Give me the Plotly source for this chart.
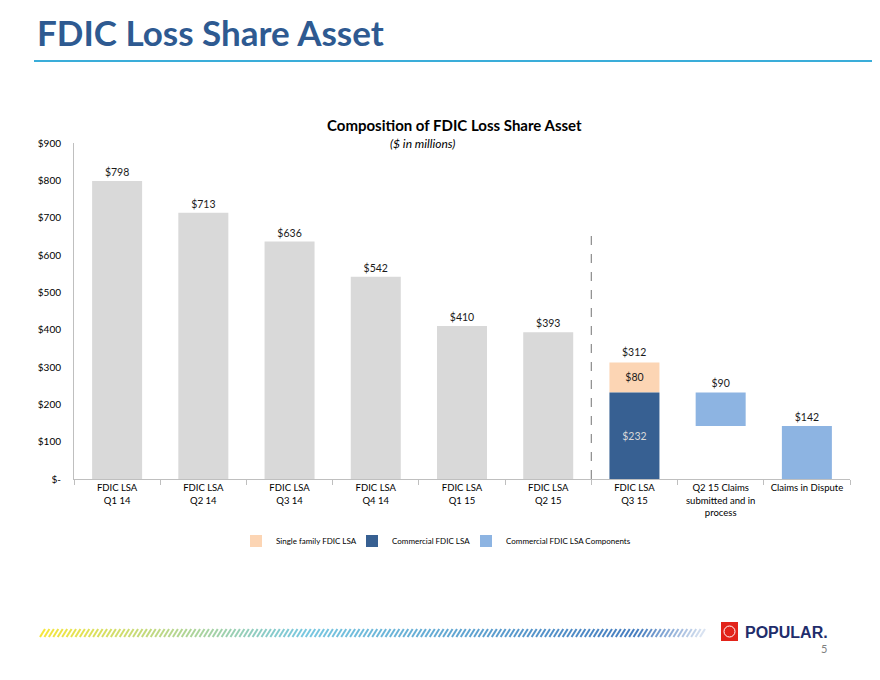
import plotly.graph_objects as go

# ---- data (in $ millions) ----
categories = [
    "FDIC LSA<br>Q1 14", "FDIC LSA<br>Q2 14", "FDIC LSA<br>Q3 14",
    "FDIC LSA<br>Q4 14", "FDIC LSA<br>Q1 15", "FDIC LSA<br>Q2 15",
    "FDIC LSA<br>Q3 15", "Q2 15 Claims<br>submitted and in<br>process",
    "Claims in Dispute",
]
lsa_totals = [798, 713, 636, 542, 410, 393]
commercial_q3 = 232
single_family_q3 = 80
claims_in_process = 90
claims_in_dispute = 142
y_ticks = [0, 100, 200, 300, 400, 500, 600, 700, 800, 900]
y_tick_labels = ["$-", "$100", "$200", "$300", "$400", "$500", "$600", "$700", "$800", "$900"]

GREY = "#D9D9D9"
PEACH = "#FCD5B4"
DARK_BLUE = "#376092"
LIGHT_BLUE = "#8DB4E2"
FONT = "Lato"

# the page puts the figure 8px in from the window corner,
# so screen positions are shifted back by that much
OFF = 8
W, H = 880, 680
L, T = 74 - OFF, 143 - OFF
R, B = W - (850 - OFF), H - (479 - OFF)
PW, PH = W - L - R, H - T - B


def px(x):
    return (x - OFF - L) / PW


def py(y):
    return (H - B - (y - OFF)) / PH


fig = go.Figure()

fig.add_trace(go.Bar(
    x=categories[:6], y=lsa_totals, base=[0] * len(lsa_totals),
    marker_color=GREY, showlegend=False,
    texttemplate="$%{y}", textposition="outside",
))
fig.add_trace(go.Bar(
    x=[categories[6]], y=[single_family_q3], base=[commercial_q3],
    marker_color=PEACH, name="Single family FDIC LSA", legend="legend",
    texttemplate="$%{y}", textposition="inside", insidetextanchor="middle",
))
fig.add_trace(go.Bar(
    x=[categories[6]], y=[commercial_q3], base=[0],
    marker_color=DARK_BLUE, name="Commercial FDIC LSA", legend="legend2",
    texttemplate="$%{y}", textposition="inside", insidetextanchor="middle",
))
fig.add_trace(go.Bar(
    x=categories[7:], y=[claims_in_process, claims_in_dispute],
    base=[claims_in_dispute, 0],
    marker_color=LIGHT_BLUE, name="Commercial FDIC LSA Components", legend="legend3",
    texttemplate="$%{y}", textposition="outside",
))

for tr in fig.data:
    tr.width = 0.58
    tr.cliponaxis = False
    tr.marker.line.width = 0
    tr.textfont = dict(size=10.5, color="#1a1a1a")
fig.data[2].textfont.color = "#D9D9D9"

# total label for the stacked Q3 15 bar
fig.add_annotation(
    x=categories[6], y=commercial_q3 + single_family_q3,
    text="$%d" % (commercial_q3 + single_family_q3),
    showarrow=False, yanchor="bottom", yshift=3,
    font=dict(size=10.5, color="#1a1a1a"),
)

# dashed divider between history and Q3 15 breakdown
fig.add_shape(type="line", xref="x", yref="y", x0=5.5, x1=5.5, y0=0, y1=660,
              line=dict(color="#8C8C8C", width=1.2, dash="dash"))

# slide title and rule
fig.add_annotation(xref="paper", yref="paper", x=px(35), y=py(32), xanchor="left", yanchor="middle",
                   text="<b>FDIC Loss Share Asset</b>", showarrow=False,
                   font=dict(family=FONT, size=35, color="#2E5A91"))
fig.add_shape(type="line", xref="paper", yref="paper", x0=px(34), x1=px(890), y0=py(61), y1=py(61),
              line=dict(color="#3AADD9", width=2))

# chart title
fig.add_annotation(xref="paper", yref="paper", x=px(454), y=py(125), xanchor="center", yanchor="middle",
                   text="<b>Composition of FDIC Loss Share Asset</b>", showarrow=False,
                   font=dict(family=FONT, size=15, color="#000000"))
fig.add_annotation(xref="paper", yref="paper", x=px(422), y=py(143), xanchor="center", yanchor="middle",
                   text="<i>($ in millions)</i>", showarrow=False,
                   font=dict(family=FONT, size=12, color="#000000"))

# footer stripe (decoration)
stripe_start, stripe_end = 40, 700
n = 150
for i in range(n):
    t = i / (n - 1)
    if t < 0.4:
        f = t / 0.4
        c = (int(245 + (120 - 245) * f), int(230 + (200 - 230) * f), int(60 + (225 - 60) * f))
    else:
        f = (t - 0.4) / 0.6
        c = (int(120 + (60 - 120) * f), int(200 + (110 - 200) * f), int(225 + (185 - 225) * f))
    alpha = 1.0 if t < 0.9 else max(0.15, 1 - (t - 0.9) * 8)
    x0 = stripe_start + (stripe_end - stripe_start) * t
    fig.add_shape(type="line", xref="paper", yref="paper",
                  x0=px(x0), x1=px(x0 + 5), y0=py(637), y1=py(629),
                  line=dict(color="rgba(%d,%d,%d,%.2f)" % (c + (alpha,)), width=2))

# Popular logo
fig.add_shape(type="rect", xref="paper", yref="paper", x0=px(721), x1=px(738), y0=py(641), y1=py(622),
              fillcolor="#E2231A", line=dict(width=0))
fig.add_shape(type="circle", xref="paper", yref="paper", x0=px(724), x1=px(735), y0=py(637), y1=py(626),
              fillcolor="rgba(0,0,0,0)", line=dict(color="white", width=1))
fig.add_annotation(xref="paper", yref="paper", x=px(743), y=py(632), xanchor="left", yanchor="middle",
                   text="<b>POPULAR.</b>", showarrow=False,
                   font=dict(family="Liberation Sans", size=16, color="#1F2D6B"))
fig.add_annotation(xref="paper", yref="paper", x=px(829), y=py(648), xanchor="right", yanchor="middle",
                   text="5", showarrow=False, font=dict(family=FONT, size=11, color="#808080"))

legend_style = dict(orientation="h", yanchor="middle", y=py(541), xanchor="left",
                    font=dict(size=8), itemwidth=30, bgcolor="rgba(0,0,0,0)")

fig.update_layout(
    width=W, height=H,
    margin=dict(l=L, r=R, t=T, b=B, autoexpand=False),
    barmode="overlay",
    plot_bgcolor="white", paper_bgcolor="white",
    font=dict(family=FONT, size=10, color="#000000"),
    showlegend=True,
    legend=dict(x=px(236), **legend_style),
    legend2=dict(x=px(352), **legend_style),
    legend3=dict(x=px(466), **legend_style),
)
fig.update_xaxes(
    type="category", categoryorder="array", categoryarray=categories,
    showline=True, linecolor="#BFBFBF", linewidth=1,
    ticks="outside", tickson="boundaries", ticklen=5, tickcolor="#BFBFBF",
    showgrid=False, tickfont=dict(size=9.5), tickangle=0, automargin=False,
)
fig.update_yaxes(
    range=[0, 900], tickvals=y_ticks, ticktext=y_tick_labels,
    showline=True, linecolor="#BFBFBF", linewidth=1,
    showgrid=False, zeroline=False, ticks="", ticklabelstandoff=10,
    tickfont=dict(size=10), automargin=False,
)

fig.write_html("out.html")
